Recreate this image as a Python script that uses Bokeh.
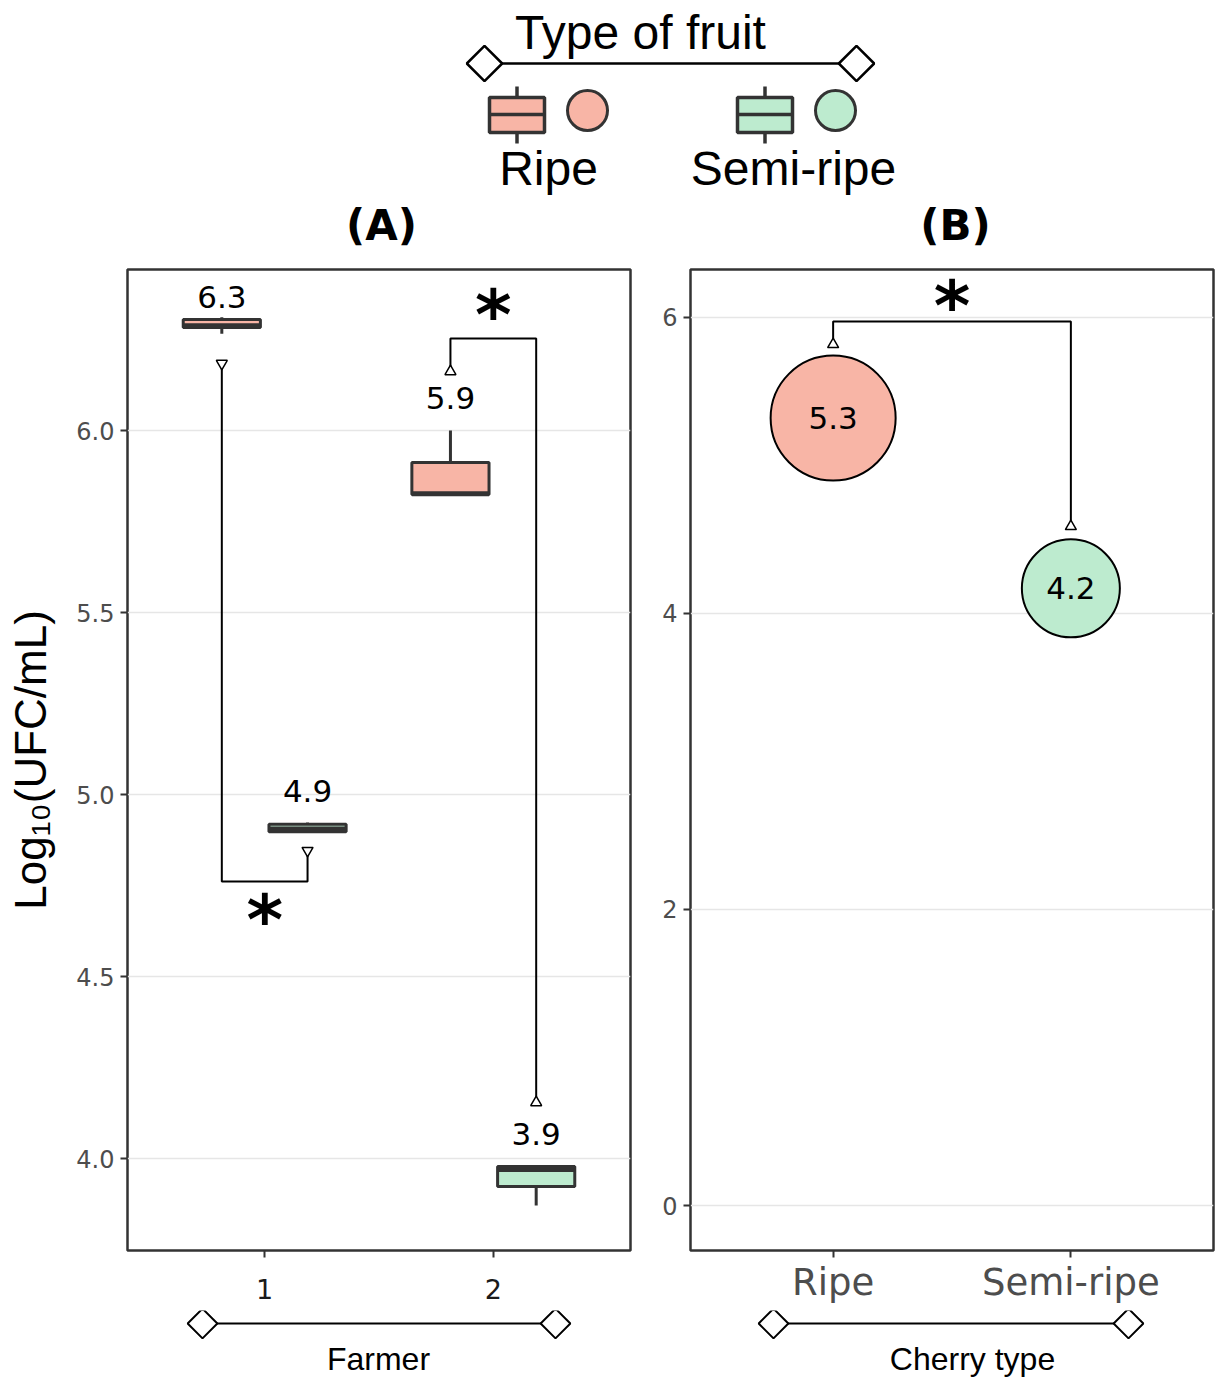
import numpy as np
from bokeh.plotting import figure
from bokeh.layouts import column, row
from bokeh.models import Range1d, FixedTicker, NumeralTickFormatter, ColumnDataSource
from bokeh.core.properties import value
from bokeh.embed import file_html
from bokeh.resources import INLINE

# ---------------- data ----------------
farmers = ["1", "2"]
fruit_types = ["Ripe", "Semi-ripe"]

box_farmer = ["1", "1", "2", "2"]
box_type = ["Ripe", "Semi-ripe", "Ripe", "Semi-ripe"]
box_lower = [6.266, 4.897, 5.824, 3.871]
box_q1 = [6.283, 4.898, 5.824, 3.923]
box_median = [6.288, 4.905, 5.826, 3.970]
box_q3 = [6.305, 4.918, 5.912, 3.978]
box_upper = [6.311, 4.923, 6.000, 3.978]
box_label = ["6.3", "4.9", "5.9", "3.9"]

# significance brackets panel A (pairs of box indices)
sigA_pairs = [(0, 1), (2, 3)]
sigA_end_left = [6.184, 6.162]
sigA_end_right = [4.846, 4.154]
sigA_bar = [4.761, 6.253]

cherry_types = ["Ripe", "Semi-ripe"]
cherry_value = [5.32, 4.17]
cherry_label = ["5.3", "4.2"]
sigB_end = [5.818, 4.588]
sigB_bar = 5.973

yticks_A = [4.0, 4.5, 5.0, 5.5, 6.0]
yticks_B = [0, 2, 4, 6]

fill_map = {"Ripe": "#F8B5A6", "Semi-ripe": "#BDEBCF"}
dodge_map = {"Ripe": -0.1875, "Semi-ripe": 0.1875}
DARK = "#333333"
GREY = "#4d4d4d"
DJ = value("DejaVu Sans")
LIB = value("Liberation Sans")


def style_panel(p):
    p.outline_line_color = DARK
    p.outline_line_width = 2.5
    p.background_fill_color = "white"
    p.border_fill_color = "white"
    for ax in (p.xaxis[0], p.yaxis[0]):
        ax.axis_line_color = None
        ax.major_tick_out = 7
        ax.major_tick_in = 0
        ax.major_tick_line_color = DARK
        ax.major_tick_line_width = 2
        ax.minor_tick_line_color = None
        ax.major_label_text_font = "DejaVu Sans"
        ax.major_label_text_color = GREY
    p.xgrid.grid_line_color = None
    p.ygrid.grid_line_color = "#e6e6e6"
    p.ygrid.grid_line_width = 1.5


# ---------------- top legend figure ----------------
TOP_H = 262
top = figure(width=1217, height=TOP_H, x_range=Range1d(0, 1217), y_range=Range1d(TOP_H, 0),
             x_axis_type=None, y_axis_type=None, min_border=0, outline_line_color=None,
             toolbar_location=None, output_backend="svg")
top.grid.visible = False

top.text(x=[640], y=[32], text=["Type of fruit"], text_font=LIB, text_font_size="48px",
         text_align="center", text_baseline="middle", text_color="black")
top.segment(x0=[484], y0=[63], x1=[856], y1=[63], line_color="black", line_width=2.5)
top.scatter(x=[484, 856], y=[63, 63], marker="square", angle=np.pi / 4, size=25,
            fill_color="white", line_color="black", line_width=2.5)

leg_box_left = [489, 737]
for i, t in enumerate(fruit_types):
    l = leg_box_left[i]
    r = l + 55
    cx = (l + r) / 2
    top.segment(x0=[cx], y0=[86], x1=[cx], y1=[143], line_color=DARK, line_width=3.5)
    top.quad(left=[l], right=[r], top=[97], bottom=[132], fill_color=fill_map[t],
             line_color=DARK, line_width=3.5)
    top.segment(x0=[l], y0=[114], x1=[r], y1=[114], line_color=DARK, line_width=3.5)
    top.scatter(x=[l + 98], y=[110], size=40, fill_color=fill_map[t], line_color=DARK,
                line_width=3)

top.text(x=[548, 793], y=[168, 168], text=fruit_types, text_font=LIB, text_font_size="48px",
         text_align="center", text_baseline="middle", text_color="black")
top.text(x=[381, 955], y=[225, 225], text=["(A)", "(B)"], text_font=DJ,
         text_font_size="42px", text_font_style="bold", text_align="center",
         text_baseline="middle", text_color="black")

# ---------------- panel A ----------------
PANEL_H = 1048
pA = figure(width=640, height=PANEL_H, x_range=Range1d(0.4, 2.6), y_range=Range1d(3.7473, 6.4423),
            min_border_left=127, min_border_right=10, min_border_top=7, min_border_bottom=60,
            toolbar_location=None, output_backend="svg")
style_panel(pA)
pA.xaxis.ticker = FixedTicker(ticks=[1, 2])
pA.xaxis.major_label_overrides = {1: farmers[0], 2: farmers[1]}
pA.xaxis.major_label_text_font_size = "27px"
pA.xaxis.major_label_text_color = "#1a1a1a"
pA.xaxis.major_label_standoff = 21
pA.yaxis.ticker = FixedTicker(ticks=yticks_A)
pA.yaxis.formatter = NumeralTickFormatter(format="0.0")
pA.yaxis.major_label_text_font_size = "24px"
pA.yaxis.major_label_standoff = 6
pA.yaxis.axis_label = "Log\u2081\u2080(UFC/mL)"
pA.yaxis.axis_label_text_font = "Liberation Sans"
pA.yaxis.axis_label_text_font_style = "normal"
pA.yaxis.axis_label_text_font_size = "44px"
pA.yaxis.axis_label_text_color = "black"
pA.yaxis.axis_label_standoff = 18

bx = [farmers.index(f) + 1 + dodge_map[t] for f, t in zip(box_farmer, box_type)]
bw = 0.3375
src = ColumnDataSource(dict(
    x=bx, lo=box_lower, q1=box_q1, med=box_median, q3=box_q3, up=box_upper,
    fill=[fill_map[t] for t in box_type],
    xl=[x - bw / 2 for x in bx], xr=[x + bw / 2 for x in bx],
    ly=[min(u + 0.088, 6.4423 - 0.075) for u in box_upper], lab=box_label))
pA.segment(x0="x", y0="lo", x1="x", y1="q1", source=src, line_color=DARK, line_width=3)
pA.segment(x0="x", y0="q3", x1="x", y1="up", source=src, line_color=DARK, line_width=3)
pA.vbar(x="x", width=bw, bottom="q1", top="q3", source=src, fill_color="fill",
        line_color=DARK, line_width=3)
pA.segment(x0="xl", y0="med", x1="xr", y1="med", source=src, line_color=DARK, line_width=5)
pA.text(x="x", y="ly", text="lab", source=src, text_font=DJ, text_font_size="31px",
        text_align="center", text_baseline="middle", text_color="black")

for k, (i, j) in enumerate(sigA_pairs):
    x0, x1 = bx[i], bx[j]
    ya, yb, ybar = sigA_end_left[k], sigA_end_right[k], sigA_bar[k]
    pA.line(x=[x0, x0, x1, x1], y=[ya, ybar, ybar, yb], line_color="black", line_width=2)
    below = ybar < min(ya, yb)
    mk = "inverted_triangle" if below else "triangle"
    pA.scatter(x=[x0, x1], y=[ya, yb], marker=mk, size=11, fill_color="white",
               line_color="black", line_width=1.5)
    pA.text(x=[(x0 + x1) / 2], y=[ybar], text=["*"], text_font=DJ, text_font_style="bold",
            text_font_size="70px", text_align="center", text_baseline="middle",
            y_offset=(38 if below else -23), text_color="black")

# ---------------- panel B ----------------
pB = figure(width=577, height=PANEL_H, x_range=Range1d(0.4, 2.6), y_range=Range1d(-0.304, 6.324),
            min_border_left=50, min_border_right=4, min_border_top=7, min_border_bottom=60,
            toolbar_location=None, output_backend="svg")
style_panel(pB)
pB.xaxis.ticker = FixedTicker(ticks=[1, 2])
pB.xaxis.major_label_overrides = {1: cherry_types[0], 2: cherry_types[1]}
pB.xaxis.major_label_text_font_size = "37px"
pB.xaxis.major_label_standoff = 3
pB.yaxis.ticker = FixedTicker(ticks=yticks_B)
pB.yaxis.major_label_text_font_size = "24px"
pB.yaxis.major_label_standoff = 6

cx = [cherry_types.index(c) + 1 for c in cherry_types]
srcB = ColumnDataSource(dict(x=cx, y=cherry_value, lab=cherry_label,
                             size=[v * 23.5 for v in cherry_value],
                             fill=[fill_map[c] for c in cherry_types]))
pB.line(x=[cx[0], cx[0], cx[1], cx[1]], y=[sigB_end[0], sigB_bar, sigB_bar, sigB_end[1]],
        line_color="black", line_width=2)
pB.scatter(x=cx, y=sigB_end, marker="triangle", size=11, fill_color="white",
           line_color="black", line_width=1.5)
pB.text(x=[(cx[0] + cx[1]) / 2], y=[sigB_bar], text=["*"], text_font=DJ,
        text_font_style="bold", text_font_size="70px", text_align="center",
        text_baseline="middle", y_offset=-15, text_color="black")
pB.scatter(x="x", y="y", size="size", source=srcB, fill_color="fill", line_color="black",
           line_width=2)
pB.text(x="x", y="y", text="lab", source=srcB, text_font=DJ, text_font_size="31px",
        text_align="center", text_baseline="middle", text_color="black")

# ---------------- bottom guides ----------------
BOT_H = 70
bot = figure(width=1217, height=BOT_H, x_range=Range1d(0, 1217), y_range=Range1d(BOT_H, 0),
             x_axis_type=None, y_axis_type=None, min_border=0, outline_line_color=None,
             toolbar_location=None, output_backend="svg")
bot.grid.visible = False
guides = [(202, 555, 378, "Farmer"), (773, 1128, 972, "Cherry type")]
for g0, g1, gc, lab in guides:
    bot.segment(x0=[g0], y0=[13], x1=[g1], y1=[13], line_color="black", line_width=2)
    bot.scatter(x=[g0, g1], y=[13, 13], marker="square", angle=np.pi / 4, size=21,
                fill_color="white", line_color="black", line_width=2)
    bot.text(x=[gc], y=[48], text=[lab], text_font=LIB, text_font_size="32px",
             text_align="center", text_baseline="middle", text_color="black")

layout = column(top, row(pA, pB), bot)
open("out.html", "w").write(file_html(layout, INLINE))
